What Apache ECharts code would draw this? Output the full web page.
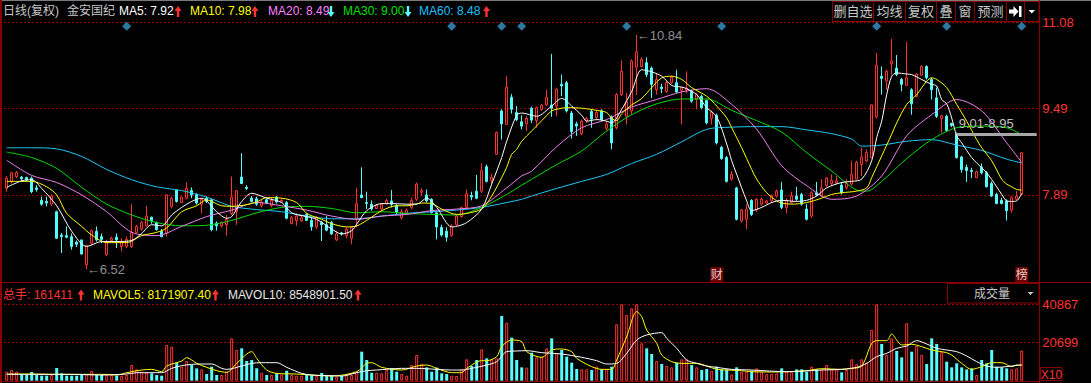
<!DOCTYPE html>
<html><head><meta charset="utf-8">
<script src="https://cdn.jsdelivr.net/npm/echarts@6/dist/echarts.min.js"></script>
<style>html,body{margin:0;padding:0;background:#000;overflow:hidden}#c{width:1091px;height:383px}</style>
</head><body><div id="c"></div>
<script>
// ---------- data ----------
const open = [8.01,8.13,8.23,8.22,8.21,8.20,8.02,7.79,7.77,7.72,7.58,7.15,7.14,7.12,7.02,7.06,6.60,7.00,7.22,7.12,6.79,7.05,7.11,6.94,6.94,6.94,7.20,7.26,7.32,7.48,7.38,7.22,7.18,7.68,7.98,7.75,7.83,7.97,7.90,7.72,7.83,7.80,7.37,7.32,7.34,7.55,7.58,8.22,8.03,7.83,7.82,7.69,7.80,7.69,7.85,7.76,7.75,7.36,7.42,7.41,7.53,7.42,7.30,7.38,7.34,7.38,7.06,7.19,7.14,7.09,7.44,7.89,7.75,7.72,7.64,7.63,7.73,7.78,7.69,7.47,7.55,7.66,7.81,7.94,7.89,7.81,7.56,7.29,7.22,7.14,7.34,7.49,7.66,7.88,7.96,7.96,8.41,8.16,8.64,9.44,9.19,9.69,9.41,9.24,9.20,9.49,9.26,9.47,9.55,9.55,9.53,9.93,9.96,9.40,9.20,9.02,9.26,9.43,9.32,9.44,9.12,9.33,9.13,9.74,9.34,9.44,10.25,10.26,10.33,10.23,9.83,9.88,9.80,9.96,9.96,9.82,9.83,9.80,9.65,9.71,9.63,9.30,9.36,8.77,8.58,8.18,8.02,7.41,7.44,7.79,7.61,7.72,7.74,7.78,7.87,7.98,7.66,7.75,7.87,7.90,7.63,7.50,7.93,7.87,8.06,8.10,8.11,8.07,8.02,8.09,8.18,8.45,8.52,8.58,9.33,10.08,9.99,10.31,10.23,10.02,9.91,9.83,9.71,10.10,10.26,10.02,9.68,9.30,9.34,9.21,9.01,8.59,8.40,8.34,8.21,8.40,8.30,8.10,7.90,7.79,7.78,7.61,7.81,7.90];
const close = [8.20,8.30,8.30,8.19,8.17,7.95,7.99,7.72,7.74,7.87,7.09,7.12,7.11,6.94,6.98,6.80,6.95,7.23,7.06,7.07,7.01,7.09,7.06,7.03,7.07,7.20,7.31,7.38,7.50,7.42,7.25,7.12,7.89,7.83,7.77,7.85,8.01,7.89,7.74,7.81,7.77,7.25,7.32,7.38,7.44,7.85,7.97,8.10,8.01,7.77,7.72,7.76,7.75,7.79,7.76,7.79,7.46,7.47,7.50,7.47,7.42,7.30,7.48,7.34,7.24,7.17,7.17,7.17,7.26,7.29,7.73,7.84,7.73,7.63,7.70,7.72,7.79,7.72,7.57,7.58,7.61,7.79,8.09,7.97,7.78,7.56,7.30,7.15,7.11,7.32,7.50,7.66,7.91,7.85,7.83,8.34,8.14,8.21,9.04,9.20,9.88,9.47,9.28,9.16,9.30,9.27,9.50,9.54,9.69,9.49,9.84,9.90,9.44,9.06,9.16,9.25,9.30,9.29,9.41,9.28,9.20,8.85,9.74,10.17,9.61,10.36,10.53,10.39,10.11,9.93,10.02,9.85,9.96,10.06,9.79,9.87,9.86,9.62,9.74,9.50,9.22,9.42,8.85,8.56,8.14,8.27,7.44,7.61,7.63,7.53,7.81,7.81,7.78,7.87,7.96,7.66,7.79,7.87,7.81,7.72,7.44,7.93,7.89,8.02,8.20,8.16,8.15,7.93,8.10,8.27,8.49,8.59,8.67,9.55,10.28,10.04,10.17,10.36,10.11,9.93,10.05,9.57,10.12,10.26,10.05,9.83,9.34,9.35,9.08,9.17,8.58,8.36,8.34,8.32,8.32,8.30,8.04,7.87,7.73,7.73,7.60,7.84,7.87,8.67];
const high = [8.24,8.30,8.33,8.24,8.23,8.23,8.07,7.86,7.86,7.90,7.60,7.19,7.31,7.18,7.05,7.06,6.97,7.25,7.31,7.18,7.06,7.12,7.18,7.09,7.12,7.72,7.34,7.41,7.69,7.49,7.40,7.26,7.90,7.86,7.99,7.86,8.12,8.03,7.92,7.83,7.86,7.82,7.40,7.40,7.52,8.23,7.98,8.66,8.07,7.87,7.86,7.80,7.82,7.83,7.87,7.82,7.78,7.50,7.55,7.50,7.56,7.47,7.50,7.41,7.50,7.41,7.23,7.21,7.29,7.32,8.02,8.40,7.95,7.79,7.72,7.74,7.82,7.98,7.72,7.63,7.64,7.84,8.12,8.01,7.99,7.83,7.59,7.34,7.29,7.35,7.53,7.67,7.99,7.95,8.26,8.47,8.45,8.28,9.06,9.47,10.08,9.75,9.53,9.36,9.34,9.52,9.52,9.57,9.83,10.49,9.87,10.11,9.99,9.44,9.24,9.28,9.33,9.46,9.46,9.47,9.24,9.36,9.77,10.37,9.77,10.39,10.84,10.43,10.43,10.26,10.14,9.94,9.99,10.09,10.20,9.88,10.17,9.83,9.77,9.74,9.65,9.45,9.39,8.79,8.61,8.33,8.04,7.63,7.72,7.81,7.83,7.84,7.80,7.90,7.99,8.13,7.83,7.95,8.04,7.93,7.72,7.96,8.13,8.18,8.22,8.27,8.24,8.13,8.18,8.52,8.52,8.76,8.73,9.56,10.51,10.26,10.20,10.77,10.47,10.05,10.71,9.86,10.14,10.28,10.28,10.05,9.87,9.36,9.37,9.22,9.04,8.61,8.45,8.39,8.34,8.47,8.33,8.14,7.93,7.84,7.81,7.87,7.96,8.67];
const low = [7.95,8.10,8.20,8.14,8.15,7.92,7.95,7.69,7.68,7.69,7.08,6.82,7.09,6.88,6.93,6.79,6.52,6.97,7.03,7.00,6.76,7.03,6.91,6.85,6.91,6.91,7.18,7.23,7.31,7.36,7.23,7.11,7.12,7.64,7.75,7.74,7.81,7.83,7.71,7.55,7.74,7.22,7.23,7.29,7.14,7.52,7.34,8.09,7.98,7.75,7.69,7.66,7.72,7.66,7.73,7.75,7.44,7.35,7.32,7.39,7.41,7.23,7.26,7.04,7.22,7.15,7.04,7.14,7.09,6.98,7.29,7.83,7.63,7.60,7.63,7.60,7.71,7.66,7.53,7.44,7.52,7.63,7.78,7.87,7.75,7.55,7.07,7.12,7.03,7.12,7.32,7.47,7.63,7.79,7.81,7.93,8.12,8.09,8.63,8.91,9.18,9.39,9.25,9.10,9.07,9.22,9.13,9.44,9.53,9.33,9.34,9.71,9.41,8.93,8.98,8.99,9.22,9.13,9.27,9.25,9.08,8.73,9.10,9.71,9.19,9.37,9.73,10.24,10.06,9.68,9.74,9.77,9.77,9.94,9.77,9.19,9.77,9.59,9.47,9.47,9.19,9.19,8.82,8.54,8.12,8.15,7.42,7.38,7.26,7.50,7.58,7.69,7.72,7.75,7.84,7.63,7.55,7.73,7.78,7.69,7.42,7.47,7.87,7.85,8.04,8.07,8.09,7.90,7.99,8.06,8.16,8.24,8.49,8.57,9.30,9.74,9.83,10.11,10.08,9.80,9.90,9.37,9.69,10.08,10.02,9.65,9.31,9.04,9.05,9.14,8.56,8.30,8.13,8.20,8.20,8.27,8.03,7.85,7.72,7.72,7.42,7.56,7.79,7.89];
// volume in the axis unit (X10)
const volume = [4820,5712,4820,3570,3035,4641,3035,2678,2678,3035,6783,3927,2678,2678,2678,3035,3392,5177,3035,3035,3035,3035,2678,2678,3035,8390,6069,4820,4284,3927,3035,2678,19100,18207,9639,7497,10532,8390,6605,6069,3570,7497,3035,3035,4820,22670,16422,17315,10532,11067,6605,4284,3035,3035,3927,3392,5355,3035,2678,2678,3035,3035,2678,4106,3035,2678,2142,2499,3035,3035,4820,15530,11067,4284,4284,3927,5712,6605,4820,3570,2678,8390,13745,8925,7140,4820,6962,3927,3570,2678,2499,6069,11424,7854,11067,16779,11960,11424,11960,34629,31059,23027,11067,7140,6962,14994,12495,12852,17315,22670,14637,16422,12852,9639,6248,6069,6069,5712,7497,6069,6069,7497,30167,40867,35165,38735,40867,19992,17315,14280,10532,8925,7854,7140,9639,11424,11424,8390,7140,5712,6248,5355,7497,6069,6069,3392,7140,4820,4820,5355,6605,4820,3570,3570,3927,6605,4820,4820,6069,6069,4820,7497,6069,6069,8390,6069,6069,4463,5712,11424,8925,11424,9639,27132,40867,19635,13745,22670,15887,12495,30702,15530,18564,13745,8925,22670,19635,15530,10175,7140,9282,7140,6069,6605,3035,11067,9282,16422,7497,7140,6605,6069,6605,16141];
// moving-average lines read at sample candles: [candle index, value]
const ma5 = [[0,8.03],[3,8.15],[5,8.17],[7,8.01],[10,7.69],[13,7.22],[16,6.94],[19,7.03],[22,7.03],[25,7.05],[27,7.18],[29,7.34],[31,7.32],[33,7.52],[35,7.66],[37,7.77],[39,7.83],[42,7.58],[44,7.46],[45,7.49],[47,7.77],[49,7.92],[50,7.90],[52,7.83],[55,7.75],[57,7.56],[60,7.49],[62,7.44],[65,7.26],[67,7.17],[69,7.23],[70,7.35],[72,7.60],[75,7.73],[77,7.73],[80,7.72],[82,7.72],[84,7.83],[86,7.66],[89,7.30],[90,7.31],[92,7.38],[95,7.63],[97,8.09],[99,8.58],[100,8.88],[102,9.36],[103,9.40],[105,9.36],[106,9.34],[109,9.53],[111,9.67],[113,9.53],[115,9.36],[116,9.25],[118,9.28],[120,9.25],[121,9.22],[123,9.47],[125,9.80],[127,10.20],[129,10.16],[131,10.08],[133,9.91],[135,9.88],[136,9.85],[138,9.74],[140,9.50],[142,9.33],[144,8.83],[145,8.52],[146,8.27],[148,7.78],[149,7.60],[151,7.66],[153,7.75],[155,7.79],[158,7.77],[160,7.79],[162,7.87],[164,8.02],[167,8.12],[169,8.14],[171,8.18],[173,8.52],[174,8.95],[175,9.25],[176,9.74],[177,10.08],[178,10.14],[180,10.12],[181,10.11],[183,10.02],[185,9.93],[186,9.90],[187,9.65],[188,9.57],[189,9.31],[190,8.98],[191,8.85],[193,8.58],[195,8.39],[196,8.30],[198,8.04],[199,7.90],[200,7.78],[201,7.77],[202,7.78],[203,7.92]];
const ma10 = [[0,8.14],[2,8.14],[5,8.14],[8,8.04],[10,7.89],[12,7.55],[15,7.31],[17,7.15],[20,7.01],[24,7.01],[27,7.14],[30,7.20],[32,7.28],[35,7.58],[38,7.69],[40,7.80],[41,7.77],[43,7.69],[45,7.68],[48,7.71],[50,7.76],[52,7.84],[55,7.83],[58,7.75],[60,7.55],[63,7.44],[65,7.36],[68,7.30],[70,7.32],[72,7.42],[75,7.60],[78,7.69],[80,7.69],[83,7.74],[85,7.73],[87,7.63],[90,7.53],[92,7.55],[95,7.63],[97,7.87],[99,8.21],[100,8.40],[101,8.64],[102,8.73],[103,8.88],[105,9.07],[107,9.26],[109,9.44],[110,9.47],[112,9.50],[115,9.49],[118,9.45],[120,9.41],[121,9.30],[122,9.26],[123,9.39],[125,9.55],[127,9.67],[129,9.87],[131,10.05],[133,10.08],[135,10.02],[137,9.87],[140,9.71],[142,9.53],[144,9.31],[145,9.13],[147,8.76],[149,8.36],[150,8.18],[152,7.93],[154,7.78],[155,7.74],[157,7.72],[160,7.75],[163,7.83],[165,7.90],[167,7.93],[170,7.96],[172,8.02],[173,8.21],[175,8.61],[177,9.01],[178,9.22],[180,9.56],[182,9.74],[184,9.99],[185,10.05],[186,10.02],[188,9.87],[190,9.56],[192,9.25],[194,8.91],[195,8.76],[197,8.52],[199,8.18],[200,8.09],[201,8.04],[202,7.99],[203,7.98]];
const ma20 = [[0,8.53],[5,8.25],[10,8.12],[15,7.89],[20,7.58],[25,7.20],[30,7.14],[35,7.31],[40,7.49],[45,7.61],[50,7.75],[55,7.69],[60,7.61],[65,7.50],[70,7.44],[75,7.50],[80,7.53],[85,7.60],[90,7.63],[95,7.69],[100,8.02],[103,8.24],[105,8.33],[110,8.78],[115,9.13],[120,9.28],[125,9.51],[130,9.65],[135,9.79],[140,9.85],[145,9.56],[150,9.10],[155,8.43],[160,8.06],[165,7.81],[170,7.87],[175,8.24],[180,8.98],[185,9.37],[190,9.65],[195,9.44],[200,8.85],[203,8.49]];
const ma30 = [[0,8.68],[5,8.58],[10,8.38],[15,8.03],[20,7.72],[25,7.52],[30,7.38],[35,7.32],[40,7.33],[45,7.42],[50,7.56],[55,7.66],[60,7.68],[65,7.64],[70,7.56],[75,7.58],[80,7.55],[85,7.53],[90,7.52],[95,7.66],[100,7.90],[103,8.07],[105,8.18],[110,8.45],[115,8.70],[120,9.07],[125,9.37],[130,9.57],[135,9.66],[140,9.66],[145,9.45],[150,9.26],[155,9.05],[160,8.67],[165,8.33],[170,7.98],[172,7.96],[175,8.14],[180,8.56],[185,8.91],[190,9.13],[195,9.16],[200,9.13],[203,9.00]];
const ma60 = [[0,8.76],[5,8.76],[10,8.74],[15,8.60],[20,8.36],[25,8.17],[30,8.04],[35,7.97],[40,7.85],[45,7.68],[50,7.62],[55,7.58],[60,7.50],[65,7.45],[70,7.45],[75,7.50],[80,7.55],[85,7.58],[90,7.61],[95,7.66],[100,7.75],[103,7.81],[105,7.87],[110,8.01],[115,8.14],[120,8.27],[125,8.47],[130,8.64],[135,8.87],[140,9.10],[145,9.14],[150,9.15],[155,9.15],[160,9.09],[165,9.02],[169,8.92],[171,8.79],[175,8.81],[180,8.88],[185,8.91],[190,8.81],[195,8.71],[200,8.55],[203,8.48]];
const mavol5 = [[0,3570],[5,3570],[10,3392],[15,3392],[20,3392],[22,3035],[24,4284],[27,5712],[29,6069],[31,4820],[32,7854],[35,10532],[36,12317],[38,9282],[40,7140],[42,5355],[44,4463],[46,9282],[49,15530],[50,11960],[52,5712],[54,3927],[58,3570],[65,2499],[70,4820],[72,9282],[73,9639],[75,7140],[79,5712],[82,7854],[84,8390],[86,6605],[89,4284],[91,4284],[92,6605],[95,10710],[96,10710],[98,12852],[99,18207],[101,21777],[103,20885],[104,15530],[107,12495],[109,16422],[111,16958],[113,15530],[114,11960],[117,7497],[119,6069],[121,6069],[122,11067],[124,23562],[126,36950],[127,34272],[128,27132],[130,19992],[131,13745],[133,10175],[135,9282],[138,9282],[140,7854],[142,6069],[144,5712],[147,5355],[149,4820],[153,4641],[156,4820],[160,5355],[163,6426],[167,6069],[169,6605],[171,7854],[173,19992],[174,21420],[176,21420],[177,24990],[178,21777],[179,19100],[181,19457],[183,18207],[185,16422],[188,14994],[189,13745],[191,9282],[193,6069],[195,7497],[197,9639],[199,9639],[201,7497],[202,8390],[203,8172]];
const mavol10 = [[0,3392],[6,3392],[13,3392],[19,3035],[24,3570],[26,4284],[31,4284],[33,6605],[35,8033],[37,8747],[39,8925],[41,8925],[43,6605],[44,6069],[47,7854],[49,9282],[51,9639],[54,9639],[56,7140],[59,3927],[61,3035],[65,2678],[67,2499],[70,4284],[72,5355],[74,5712],[79,6605],[82,6605],[86,6069],[89,5712],[91,5712],[93,6605],[96,8390],[98,10175],[100,15530],[102,15887],[104,16065],[107,15000],[111,14280],[115,12495],[118,10710],[120,8925],[122,9282],[124,14637],[126,21777],[128,24455],[131,25705],[132,22670],[134,17315],[136,11067],[138,9282],[140,7854],[142,7140],[145,6069],[149,5712],[156,4820],[163,5712],[167,6069],[170,7140],[172,9282],[174,12852],[176,14637],[178,17315],[180,18564],[182,21420],[184,19635],[186,17315],[188,16422],[190,15530],[192,13209],[194,10175],[196,7854],[198,7140],[201,7854],[203,8549]];
const markerIdx = [24,89,99,103,124,143,174,188,203];
const noteBoxes = [[142,'财'],[203,'榜']];
const extremes = [[16,6.52,'6.52'],[126,10.84,'10.84']];
const gap = {from:190, top:9.01, bottom:8.95};
const priceTicks = [7.89,9.485,11.08];
const priceTickLabels = ['7.89','9.49','11.08'];
const volTicks = [20699,40867];
const volTickLabels = ['20699','40867'];
const maLegend = [['MA5: 7.92','#ffffff','up'],['MA10: 7.98','#ffff00','up'],['MA20: 8.49','#ff80ff','down'],['MA30: 9.00','#00e000','down'],['MA60: 8.48','#1ec0ff','up']];
const volLegend = [['总手: 161411','#ff3232'],['MAVOL5: 8171907.40','#ffff00'],['MAVOL10: 8548901.50','#e8e8e8']];
const toolbar = ['删自选','均线','复权','叠','窗','预测'];

// ---------- chart ----------
const N = open.length;
const cats = open.map((_, i) => 'd' + i).concat(['p1','p2','p3']);
const RED = '#ff3232', CYAN = '#54fcfc', DRED = '#8b0000';
const FONT = '"Liberation Sans","Noto Sans CJK SC",sans-serif';
const up = open.map((o, i) => close[i] >= o);

function tickLabel(v, ticks, labels) {
  for (let k = 0; k < ticks.length; k++) if (Math.abs(v - ticks[k]) < 1e-3 * Math.max(1, ticks[k])) return labels[k];
  return '';
}
const lineS = (name, data, color, xi) => ({
  name, type: 'line', xAxisIndex: xi, yAxisIndex: xi, data, smooth: 0.3, showSymbol: false,
  lineStyle: { color, width: 1 }, z: 4, silent: true
});

const graphic = [];
const T = (text, x, y, fill, size, extra) => graphic.push(Object.assign({
  type: 'text', x, y, z: 50, silent: true,
  style: Object.assign({ text, fill, font: size + 'px ' + FONT, align: 'left', verticalAlign: 'middle' }, extra || {})
}));
const L = (x1, y1, x2, y2, stroke, w) => graphic.push({ type: 'line', z: 40, silent: true, shape: { x1, y1, x2, y2 }, style: { stroke, lineWidth: w || 1 } });
const R = (x, y, w, h, stroke) => graphic.push({ type: 'rect', z: 40, silent: true, shape: { x, y, width: w, height: h }, style: { fill: 'none', stroke, lineWidth: 1 } });
// small trend arrow (up or down) centred at cx, spanning y0..y0+11
const ARROW = (cx, y0, dir, fill) => {
  const s = dir === 'up' ? 1 : -1, tip = dir === 'up' ? y0 : y0 + 11, base = tip + s * 5, end = dir === 'up' ? y0 + 11 : y0;
  graphic.push({ type: 'polygon', z: 50, silent: true, style: { fill },
    shape: { points: [[cx, tip], [cx + 3.5, base], [cx + 1.2, base], [cx + 1.2, end], [cx - 1.2, end], [cx - 1.2, base], [cx - 3.5, base]] } });
};

// frame
L(0, 0.5, 1091, 0.5, '#7a7a7a');
L(1, 0, 1, 383, DRED, 2);
L(1039.5, 0, 1039.5, 383, DRED);
L(0, 282.5, 1091, 282.5, DRED);
L(0, 381.5, 1039, 381.5, DRED);
// header line
T('日线(复权)', 3, 11, '#c8c8c8', 12);
T('金安国纪', 67, 11, '#c8c8c8', 12);
const maX = [119, 190, 268, 343, 419], arX = [178, 255, 331, 408, 486.5];
maLegend.forEach((m, k) => { T(m[0], maX[k], 11, m[1], 12); ARROW(arX[k], 6, m[2], m[2] === 'up' ? RED : CYAN); });
// toolbar
R(832.5, 1.5, 206.5, 20, DRED);
const sep = [873.5, 905.5, 936.5, 955.5, 974.5, 1006.5, 1024.5];
sep.forEach(x => L(x, 1.5, x, 21.5, DRED));
const cellL = [832.5].concat(sep.slice(0, 6));
toolbar.forEach((t, k) => T(t, (cellL[k] + sep[k]) / 2, 11.5, '#c8c8c8', 13, { align: 'center' }));
graphic.push({ type: 'polygon', z: 50, silent: true, shape: { points: [[1009, 9.5], [1013.5, 9.5], [1013.5, 6], [1018.5, 11.5], [1013.5, 17], [1013.5, 13.5], [1009, 13.5]] }, style: { fill: '#ffffff' } });
graphic.push({ type: 'rect', z: 50, silent: true, shape: { x: 1019, y: 6, width: 2.5, height: 11 }, style: { fill: '#ffffff' } });
graphic.push({ type: 'polygon', z: 50, silent: true, shape: { points: [[1028.5, 10], [1035, 10], [1031.75, 13.5]] }, style: { fill: '#ffffff' } });
// volume header
const vx = [3, 93, 228], vax = [81, 215.5, 358];
volLegend.forEach((m, k) => { T(m[0], vx[k], 294.5, m[1], 12); ARROW(vax[k], 289.5, 'up', RED); });
R(947.5, 283.5, 91.5, 19.5, DRED);
T('成交量', 992, 294, '#c8c8c8', 12, { align: 'center' });
graphic.push({ type: 'polygon', z: 50, silent: true, shape: { points: [[1027.5, 292], [1033.5, 292], [1030.5, 295]] }, style: { fill: '#c8c8c8' } });
R(1040.5, 367.5, 21.5, 13, DRED);
T('X10', 1051.5, 374.5, RED, 12, { align: 'center' });

const option = {
  backgroundColor: '#000',
  animation: false,
  grid: [
    { left: 4.2, right: 51.8, top: 22, height: 259.4 },
    { left: 4.2, right: 51.8, top: 304.3, height: 76.4 }
  ],
  xAxis: [0, 1].map(g => ({
    type: 'category', gridIndex: g, data: cats, boundaryGap: true,
    axisLine: { show: false }, axisTick: { show: false }, axisLabel: { show: false }, splitLine: { show: false }
  })),
  yAxis: [
    { type: 'value', gridIndex: 0, position: 'right', min: 6.295, max: 11.08, interval: 1.595, scale: true,
      axisLine: { show: false }, axisTick: { show: false },
      axisLabel: { color: RED, fontSize: 13, fontFamily: FONT, margin: 3, formatter: v => tickLabel(v, priceTicks, priceTickLabels) },
      splitLine: { show: true, lineStyle: { color: ['rgba(0,0,0,0)', '#a00000', '#a00000', '#a00000'], type: [2, 2], width: 1 } } },
    { type: 'value', gridIndex: 1, position: 'right', min: 0, max: 40867, interval: 20699,
      axisLine: { show: false }, axisTick: { show: false },
      axisLabel: { color: RED, fontSize: 13, fontFamily: FONT, margin: 3, formatter: v => tickLabel(v, volTicks, volTickLabels) },
      splitLine: { show: true, lineStyle: { color: ['rgba(0,0,0,0)', '#a00000', '#a00000'], type: [2, 2], width: 1 } } }
  ],
  graphic,
  series: [
    { name: 'K', type: 'candlestick', xAxisIndex: 0, yAxisIndex: 0, barWidth: 3, z: 2, silent: true,
      data: open.map((o, i) => [o, close[i], low[i], high[i]]),
      itemStyle: { color: '#000000', color0: CYAN, borderColor: RED, borderColor0: CYAN, borderWidth: 1 },
      markLine: { silent: true, symbol: ['none', 'none'], animation: false,
        lineStyle: { color: '#a8a8a8', width: 3, type: 'solid' },
        label: { show: true, position: 'insideStartTop', formatter: gap.top.toFixed(2) + '-' + gap.bottom.toFixed(2), color: '#c0c0c0', fontSize: 13, fontFamily: FONT, distance: [2, 4] },
        data: [[{ coord: [gap.from, gap.top] }, { coord: [cats.length - 1, gap.top] }]] } },
    lineS('MA60', ma60, '#1ec8f5', 0),
    lineS('MA30', ma30, '#00dd00', 0),
    lineS('MA20', ma20, '#ee82ee', 0),
    lineS('MA10', ma10, '#ffff00', 0),
    lineS('MA5', ma5, '#ffffff', 0),
    { type: 'scatter', xAxisIndex: 0, yAxisIndex: 0, symbol: 'diamond', symbolSize: 9, z: 5, silent: true,
      itemStyle: { color: '#3399cc' }, data: markerIdx.map(i => [i, 11.0]) },
    { type: 'scatter', xAxisIndex: 0, yAxisIndex: 0, symbol: 'rect', symbolSize: [13, 15], z: 5, silent: true,
      itemStyle: { color: '#8b0000' },
      label: { show: true, position: 'inside', color: '#ffffff', fontSize: 12, fontFamily: FONT, formatter: p => p.data[2] },
      data: noteBoxes.map(b => [b[0], 6.42, b[1]]) },
    { type: 'scatter', xAxisIndex: 0, yAxisIndex: 0, symbolSize: 0, z: 6, silent: true,
      label: { show: true, position: 'right', distance: 0, color: '#b8b8b8', fontSize: 13, fontFamily: FONT, formatter: p => '←' + p.data[2] },
      data: extremes },
    { name: 'VOL', type: 'bar', xAxisIndex: 1, yAxisIndex: 1, barWidth: 3, z: 2, silent: true,
      data: volume.map((v, i) => ({ value: v, itemStyle: up[i] ? { color: '#000000', borderColor: RED, borderWidth: 1 } : { color: CYAN } })) },
    lineS('MAVOL5', mavol5, '#ffff00', 1),
    lineS('MAVOL10', mavol10, '#ffffff', 1)
  ]
};
const chart = echarts.init(document.getElementById('c'), null, { renderer: 'svg', width: 1091, height: 383 });
chart.setOption(option);
</script>
</body></html>
